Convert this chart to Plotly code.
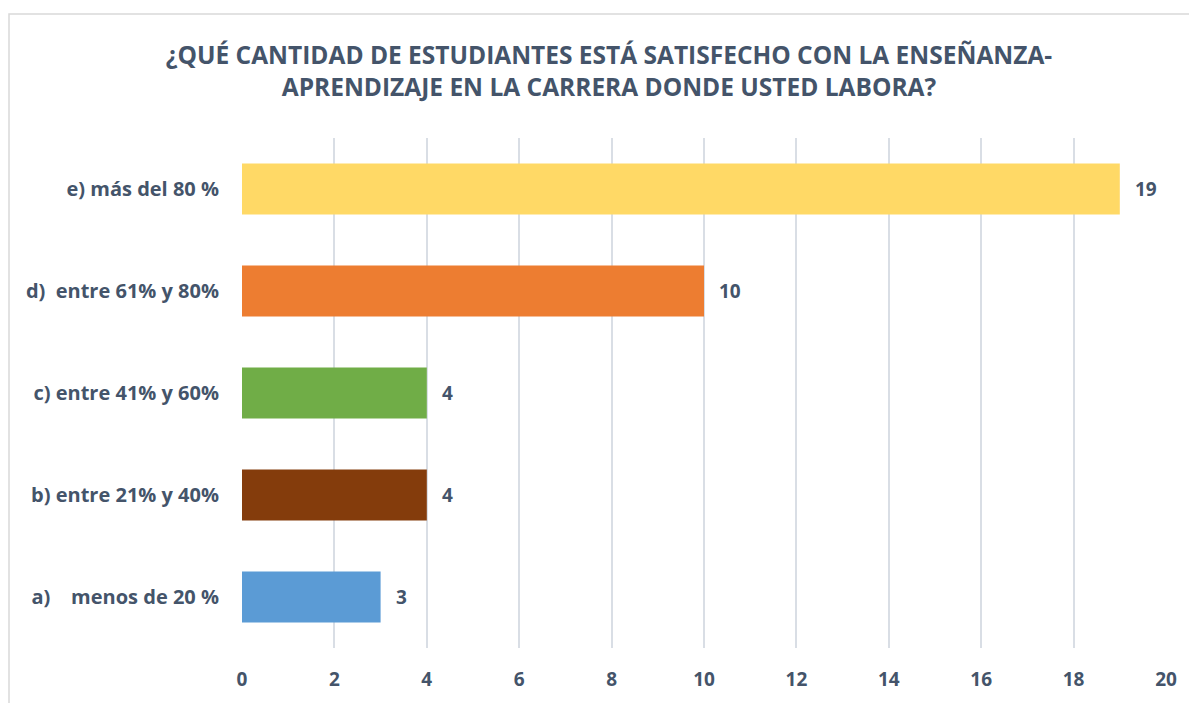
import plotly.graph_objects as go

categories = ["a)    menos de 20 %", "b) entre 21% y 40%", "c) entre 41% y 60%", "d)  entre 61% y 80%", "e) más del 80 %"]
values = [3, 4, 4, 10, 19]
colors = ["#5B9BD5", "#843C0C", "#70AD47", "#ED7D31", "#FFD966"]
tick_vals = [0, 2, 4, 6, 8, 10, 12, 14, 16, 18, 20]
title_text = "¿QUÉ CANTIDAD DE ESTUDIANTES ESTÁ SATISFECHO CON LA ENSEÑANZA-<br>APRENDIZAJE EN LA CARRERA DONDE USTED LABORA?"

font_color = "#44546A"
font_family = "Open Sans, Noto Sans, sans-serif"

W, H = 1189, 695
L, R, T, B = 234, 31, 130, 55
pw, ph = W - L - R, H - T - B

fig = go.Figure(go.Bar(
    y=categories,
    x=values,
    orientation="h",
    marker=dict(color=colors, line=dict(width=0)),
    width=0.5,
    hoverinfo="skip",
))

for c, v in zip(categories, values):
    fig.add_annotation(
        x=v, y=c, xref="x", yref="y", text=str(v), showarrow=False,
        xanchor="left", yanchor="middle", xshift=13,
        font=dict(family=font_family, size=19, color=font_color, weight="bold"),
    )

fig.update_layout(
    width=W, height=H,
    margin=dict(l=L, r=R, t=T, b=B),
    paper_bgcolor="white", plot_bgcolor="white",
    showlegend=False,
    title=dict(
        text=title_text,
        x=(609 - 8) / W, xanchor="center",
        y=1 - 56 / H, yanchor="middle",
        font=dict(family=font_family, size=24.5, color=font_color, weight="bold"),
    ),
    xaxis=dict(
        range=[0, 20], tickvals=tick_vals,
        showgrid=True, gridcolor="#D9DEE5", gridwidth=1.5,
        zeroline=False, showline=False,
        tickfont=dict(family=font_family, size=19, color=font_color, weight="bold"),
        ticks="", ticklabelstandoff=18,
    ),
    yaxis=dict(
        categoryorder="array", categoryarray=categories,
        showgrid=False, zeroline=False, showline=False,
        tickfont=dict(family=font_family, size=20, color=font_color, weight="bold"),
        ticks="", ticklabelstandoff=22,
    ),
    shapes=[dict(
        type="rect", xref="paper", yref="paper",
        x0=(1 - L) / pw, x1=(1200 - L) / pw,
        y0=(T + ph - 710) / ph, y1=(T + ph - 6) / ph,
        line=dict(color="#D9D9D9", width=1.5), fillcolor="rgba(0,0,0,0)", layer="below",
    )],
)

fig.write_html("out.html")
